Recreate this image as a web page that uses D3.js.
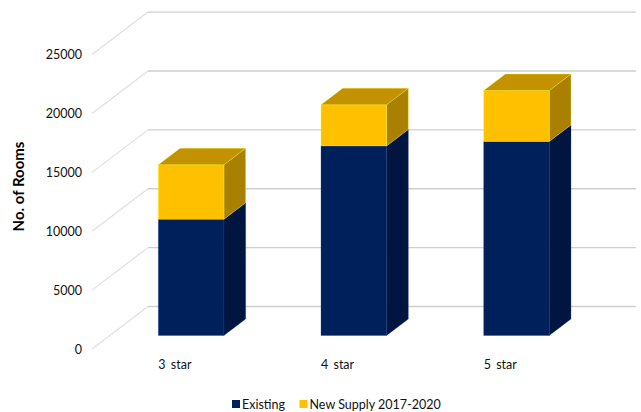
<!DOCTYPE html>
<html><head><meta charset="utf-8">
<script src="https://cdn.jsdelivr.net/npm/d3@7"></script>
<style>html,body{margin:0;padding:0;background:#fff}svg{display:block}text{font-family:Lato,"Open Sans",sans-serif;fill:#111}</style>
</head><body><svg id="c" width="641" height="412"></svg>
<script>
const categories = ["3 star","4 star","5 star"];
const existing = [9870,16100,16480];
const newSupply = [4630,3500,4320];
const seriesNames = ["Existing","New Supply 2017-2020"];
const tickValues = [0,5000,10000,15000,20000,25000];
const colors = ["#00205c","#ffc000"], sideColors = ["#001641","#a98000"], topColors = ["#00205c","#c29200"];

const svg = d3.select("#c");
// value and category scales on the front edge of the floor
const y = d3.scaleLinear().domain([0,25000]).range([349,54.6]);
const x = d3.scaleBand().domain(categories).range([92,580]).paddingInner(0.597).paddingOuter(0.2985);
// depth: 0 = front edge of floor, 1 = back wall
const depthX = d3.scaleLinear().domain([0,1]).range([0,56]);
const depthY = d3.scaleLinear().domain([0,1]).range([0,-42.5]);
const pt=(px,v,d)=>[px+depthX(d),y(v)+depthY(d)];

// gridlines
const grid = svg.append("g");
tickValues.forEach(t=>{
  grid.append("path").attr("fill","none").attr("stroke","#e0e0e0").attr("stroke-width",1.2)
    .attr("d",d3.line()([pt(x.range()[0],t,0),pt(x.range()[0],t,1)]));
  grid.append("path").attr("fill","none").attr("stroke","#cfcfcf").attr("stroke-width",1.4)
    .attr("d",d3.line()([pt(x.range()[0],t,1),pt(x.range()[1],t,1)]));
});

// value axis
const axis = svg.append("g").attr("font-size",12.5);
tickValues.forEach(t=>{
  axis.append("text").attr("x",82).attr("y",y(t)+1.5).attr("text-anchor","end")
    .attr("dominant-baseline","middle").text(t);
});
svg.append("text").attr("transform","translate(24,186.5) rotate(-90)").attr("text-anchor","middle")
  .attr("font-size",15).attr("font-weight","700").style("fill","#000").text("No. of Rooms");

// bars
const d0=0.318, d1=0.706;
categories.forEach((c,i)=>{
  const px0=x(c), px1=px0+x.bandwidth();
  const levels=[[0,existing[i]],[existing[i],existing[i]+newSupply[i]]];
  levels.forEach(([a,b],s)=>{
    const g=svg.append("g").attr("stroke",d3.color(colors[s]).brighter(1.2)).attr("stroke-width",0.5).attr("stroke-opacity",.6);
    g.append("polygon").attr("fill",sideColors[s])
      .attr("points",[pt(px1,a,d0),pt(px1,a,d1),pt(px1,b,d1),pt(px1,b,d0)].join(" "));
    g.append("polygon").attr("fill",colors[s])
      .attr("points",[pt(px0,a,d0),pt(px1,a,d0),pt(px1,b,d0),pt(px0,b,d0)].join(" "));
    if(s===1){
      g.append("polygon").attr("fill",topColors[s])
        .attr("points",[pt(px0,b,d0),pt(px1,b,d0),pt(px1,b,d1),pt(px0,b,d1)].join(" "));
    }
  });
  svg.append("text").attr("x",px0+depthX(d0)).attr("y",368.5).attr("font-size",12.5).attr("word-spacing",2).text(c);
});

// legend
const legendX=[232,299.5];
seriesNames.forEach((t,i)=>{
  svg.append("rect").attr("x",legendX[i]).attr("y",400).attr("width",8).attr("height",8).attr("fill",colors[i]);
  svg.append("text").attr("x",legendX[i]+10).attr("y",409).attr("font-size",12.5).text(t);
});
</script></body></html>
